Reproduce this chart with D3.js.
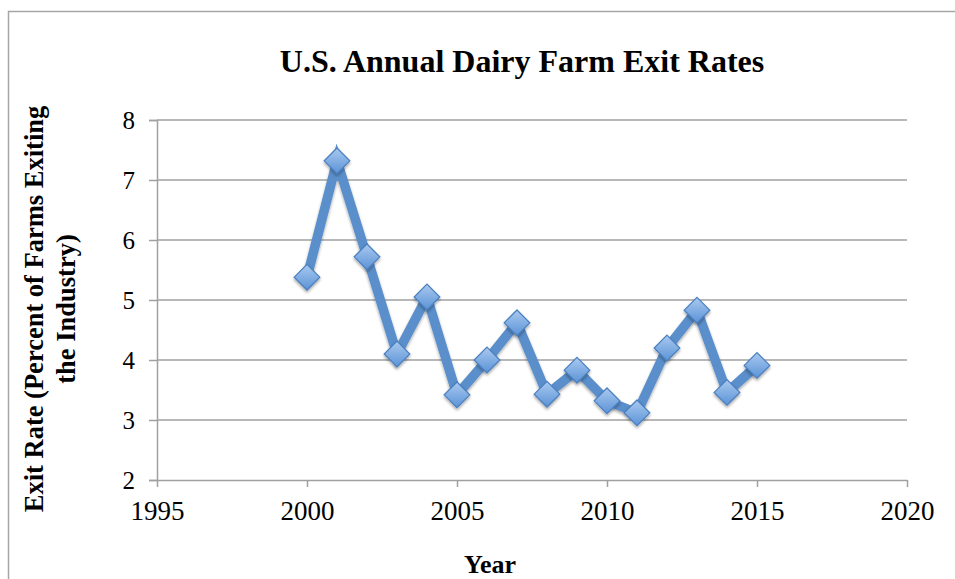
<!DOCTYPE html>
<html>
<head>
<meta charset="utf-8">
<script src="https://cdn.jsdelivr.net/npm/d3@7"></script>
<style>
  html, body { margin: 0; padding: 0; background: #fff; }
  svg text { font-family: "Liberation Serif", "Times New Roman", serif; fill: #000; }
</style>
</head>
<body>
<svg id="chart" width="955" height="579"></svg>
<script>
// Annual exit rates of U.S. dairy farms
const years = [2000, 2001, 2002, 2003, 2004, 2005, 2006, 2007, 2008, 2009, 2010, 2011, 2012, 2013, 2014, 2015];
const exitRates = [5.38, 7.32, 5.72, 4.10, 5.05, 3.42, 4.00, 4.62, 3.43, 3.83, 3.32, 3.12, 4.20, 4.83, 3.46, 3.91];
const xTicks = [1995, 2000, 2005, 2010, 2015, 2020];
const yTicks = [2, 3, 4, 5, 6, 7, 8];

const titleText = "U.S. Annual Dairy Farm Exit Rates";
const yLabelLines = ["Exit Rate (Percent of Farms Exiting", "the Industry)"];
const xLabelText = "Year";

const svg = d3.select("#chart");

// outer chart frame (runs past the right and bottom edges)
svg.append("rect")
  .attr("x", 8.5).attr("y", 11.5)
  .attr("width", 1000).attr("height", 700)
  .attr("fill", "none").attr("stroke", "#a6a6a6").attr("stroke-width", 1.5);

const x = d3.scaleLinear().domain([1995, 2020]).range([157, 907]);
const y = d3.scaleLinear().domain([2, 8]).range([480, 120]);

// horizontal gridlines
svg.append("g")
  .selectAll("line")
  .data(yTicks.filter(v => v !== 2))
  .join("line")
  .attr("x1", x(1995)).attr("x2", x(2020))
  .attr("y1", d => y(d)).attr("y2", d => y(d))
  .attr("stroke", "#a0a0a0").attr("stroke-width", 1.5);

// y axis
const yAxis = svg.append("g")
  .attr("transform", `translate(${x(1995)},0)`)
  .call(d3.axisLeft(y).tickValues(yTicks).tickSize(8).tickPadding(14).tickFormat(d3.format("d")));
yAxis.select(".domain").attr("stroke", "#a0a0a0").attr("stroke-width", 1.5);
yAxis.selectAll(".tick line").attr("stroke", "#a0a0a0").attr("stroke-width", 1.5);
yAxis.selectAll(".tick text")
  .attr("font-size", 25)
  .attr("font-family", "Liberation Serif, Times New Roman, serif")
  .attr("dy", "0.35em");

// x axis
const xAxis = svg.append("g")
  .attr("transform", `translate(0,${y(2)})`)
  .call(d3.axisBottom(x).tickValues(xTicks).tickSize(7).tickSizeOuter(0).tickPadding(14).tickFormat(d3.format("d")));
xAxis.select(".domain").attr("stroke", "#a0a0a0").attr("stroke-width", 1.5);
xAxis.selectAll(".tick line").attr("stroke", "#a0a0a0").attr("stroke-width", 1.5);
xAxis.selectAll(".tick text")
  .attr("font-size", 27)
  .attr("font-family", "Liberation Serif, Times New Roman, serif");

// soft drop shadow and marker gradient
const defs = svg.append("defs");
const shadow = defs.append("filter").attr("id", "shadow")
  .attr("x", "-30%").attr("y", "-30%").attr("width", "160%").attr("height", "160%");
shadow.append("feGaussianBlur").attr("in", "SourceAlpha").attr("stdDeviation", 1.5).attr("result", "blur");
shadow.append("feOffset").attr("in", "blur").attr("dx", 0).attr("dy", 2).attr("result", "off");
shadow.append("feComponentTransfer").attr("in", "off").attr("result", "faded")
  .append("feFuncA").attr("type", "linear").attr("slope", 0.35);
const merge = shadow.append("feMerge");
merge.append("feMergeNode").attr("in", "faded");
merge.append("feMergeNode").attr("in", "SourceGraphic");

const grad = defs.append("linearGradient").attr("id", "markerFill")
  .attr("x1", 0).attr("y1", 0).attr("x2", 0).attr("y2", 1);
grad.append("stop").attr("offset", "0%").attr("stop-color", "#a9c9f0");
grad.append("stop").attr("offset", "100%").attr("stop-color", "#5b93d6");

const pts = years.map((yr, i) => ({ year: yr, rate: exitRates[i] }));

// series line
svg.append("path")
  .datum(pts)
  .attr("fill", "none")
  .attr("stroke", "#5a8fcb")
  .attr("stroke-width", 9.5)
  .attr("stroke-linejoin", "miter")
  .attr("filter", "url(#shadow)")
  .attr("d", d3.line().x(d => x(d.year)).y(d => y(d.rate)));

// diamond markers
svg.append("g")
  .selectAll("path")
  .data(pts)
  .join("path")
  .attr("transform", d => `translate(${x(d.year)},${y(d.rate)})`)
  .attr("d", d3.symbol().type(d3.symbolDiamond2).size(420))
  .attr("fill", "url(#markerFill)")
  .attr("stroke", "#4a7fbf")
  .attr("stroke-width", 1.2)
  .attr("filter", "url(#shadow)");

// title
svg.append("text")
  .attr("x", 522).attr("y", 72)
  .attr("text-anchor", "middle")
  .attr("font-size", 32)
  .attr("font-weight", "bold")
  .text(titleText);

// y axis title (two lines, rotated)
const yTitle = svg.append("text")
  .attr("transform", "translate(0,309) rotate(-90)")
  .attr("text-anchor", "middle")
  .attr("font-size", 26.5)
  .attr("font-weight", "bold");
yTitle.append("tspan").attr("x", 0).attr("y", 43).text(yLabelLines[0]);
yTitle.append("tspan").attr("x", 0).attr("y", 75).text(yLabelLines[1]);

// x axis title
svg.append("text")
  .attr("x", 490).attr("y", 573)
  .attr("text-anchor", "middle")
  .attr("font-size", 26)
  .attr("font-weight", "bold")
  .text(xLabelText);
</script>
</body>
</html>
